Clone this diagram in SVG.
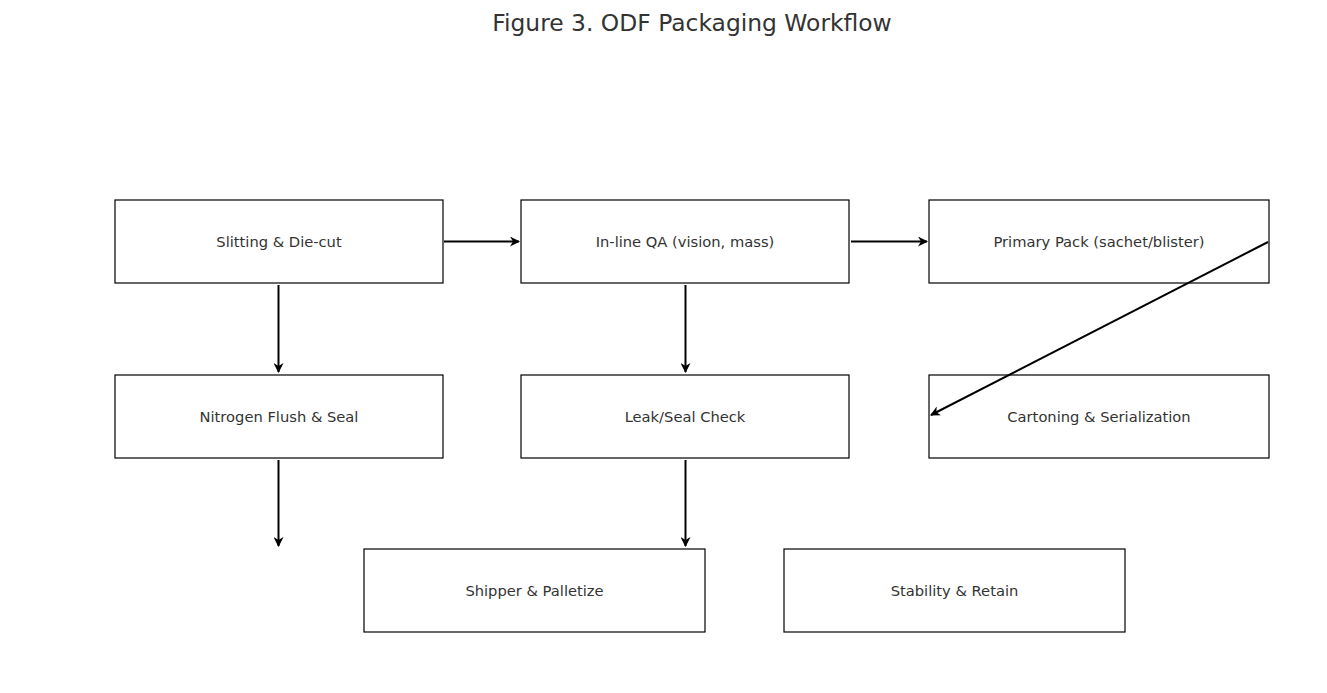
<svg xmlns="http://www.w3.org/2000/svg" width="1327" height="693" viewBox="0 0 1327 693">
<style>
.box{fill:#fff;stroke:#000;stroke-width:1.2}
.lbl{font-family:"DejaVu Sans",sans-serif;font-size:14.7px;fill:#333;text-anchor:middle;dominant-baseline:central}
.title{font-family:"DejaVu Sans",sans-serif;font-size:23.4px;fill:#333;text-anchor:middle}
.edge{stroke:#000;stroke-width:2;fill:none;marker-end:url(#ah)}
</style>
<defs>
<marker id="ah" viewBox="0 0 10 10" refX="9" refY="5" markerWidth="5" markerHeight="5" orient="auto" markerUnits="strokeWidth">
<path d="M0,0 L10,5 L0,10 L3,5 z" fill="#000"/>
</marker>
</defs>
<rect width="1327" height="693" fill="#fff"/>
<text class="title" x="692" y="31">Figure 3. ODF Packaging Workflow</text>
<g id="n1"><rect class="box" x="115" y="200" width="328" height="83"/><text class="lbl" x="279" y="241.5">Slitting &amp; Die-cut</text></g>
<g id="n2"><rect class="box" x="521" y="200" width="328" height="83"/><text class="lbl" x="685" y="241.5">In-line QA (vision, mass)</text></g>
<g id="n3"><rect class="box" x="929" y="200" width="340" height="83"/><text class="lbl" x="1099" y="241.5">Primary Pack (sachet/blister)</text></g>
<g id="n4"><rect class="box" x="115" y="375" width="328" height="83"/><text class="lbl" x="279" y="416">Nitrogen Flush &amp; Seal</text></g>
<g id="n5"><rect class="box" x="521" y="375" width="328" height="83"/><text class="lbl" x="685" y="416">Leak/Seal Check</text></g>
<g id="n6"><rect class="box" x="929" y="375" width="340" height="83"/><text class="lbl" x="1099" y="416">Cartoning &amp; Serialization</text></g>
<g id="n7"><rect class="box" x="364" y="549" width="341" height="83"/><text class="lbl" x="534.5" y="590.5">Shipper &amp; Palletize</text></g>
<g id="n8"><rect class="box" x="784" y="549" width="341" height="83"/><text class="lbl" x="954.5" y="590.5">Stability &amp; Retain</text></g>
<g id="connectors">
<line class="edge" x1="444" y1="241.5" x2="519" y2="241.5"/>
<line class="edge" x1="851" y1="241.5" x2="927" y2="241.5"/>
<line class="edge" x1="278.5" y1="285" x2="278.5" y2="372"/>
<line class="edge" x1="685.5" y1="285" x2="685.5" y2="372"/>
<line class="edge" x1="278.5" y1="460" x2="278.5" y2="546"/>
<line class="edge" x1="685.5" y1="460" x2="685.5" y2="546"/>
<line class="edge" x1="1268" y1="242" x2="931" y2="415"/>
</g>
</svg>
